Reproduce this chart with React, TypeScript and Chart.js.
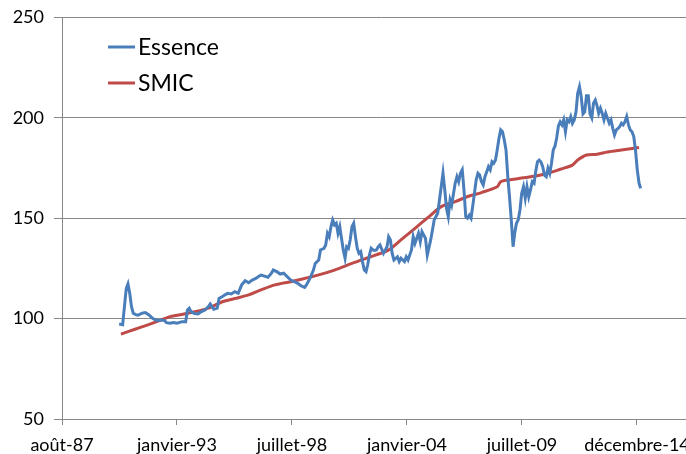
import React, { useEffect, useRef } from "react";
import { Chart, registerables } from "chart.js";

Chart.register(...registerables);

// ---- Data -----------------------------------------------------------------
const essenceDates: string[] = [
  "1990-05","1990-07","1990-08","1990-09","1990-10","1990-11","1990-12","1991-01","1991-03","1991-04",
  "1991-06","1991-08","1991-10","1991-12","1992-02","1992-03","1992-05","1992-07","1992-08","1992-10",
  "1992-12","1993-02","1993-05","1993-07","1993-08","1993-09","1993-10","1993-12","1994-02","1994-04",
  "1994-06","1994-08","1994-09","1994-10","1994-11","1995-01","1995-02","1995-04","1995-06","1995-07",
  "1995-09","1995-11","1996-01","1996-03","1996-05","1996-07","1996-09","1996-11","1997-01","1997-02",
  "1997-04","1997-06","1997-08","1997-09","1997-11","1998-01","1998-03","1998-05","1998-07","1998-09",
  "1998-11","1999-01","1999-03","1999-04","1999-06","1999-08","1999-09","1999-11","1999-12","2000-02",
  "2000-03","2000-04","2000-05","2000-06","2000-07","2000-08","2000-09","2000-10","2000-11","2000-12",
  "2001-01","2001-02","2001-03","2001-04","2001-05","2001-06","2001-07","2001-08","2001-09","2001-10",
  "2001-11","2001-12","2002-01","2002-02","2002-03","2002-04","2002-05","2002-06","2002-07","2002-08",
  "2002-09","2002-10","2002-12","2003-02","2003-03","2003-04","2003-05","2003-06","2003-08","2003-09",
  "2003-10","2003-12","2004-01","2004-02","2004-04","2004-05","2004-06","2004-08","2004-09","2004-10",
  "2004-12","2005-01","2005-03","2005-04","2005-05","2005-07","2005-08","2005-10","2005-11","2005-12",
  "2006-01","2006-02","2006-03","2006-05","2006-06","2006-07","2006-08","2006-09","2006-10","2006-11",
  "2006-12","2007-01","2007-02","2007-03","2007-04","2007-05","2007-06","2007-07","2007-08","2007-09",
  "2007-10","2007-11","2007-12","2008-01","2008-02","2008-03","2008-04","2008-05","2008-06","2008-07",
  "2008-08","2008-09","2008-10","2008-11","2008-12","2009-01","2009-02","2009-03","2009-04","2009-05",
  "2009-06","2009-07","2009-08","2009-09","2009-10","2009-11","2009-12","2010-01","2010-02","2010-03",
  "2010-04","2010-05","2010-06","2010-07","2010-08","2010-09","2010-10","2010-11","2010-12","2011-01",
  "2011-02","2011-03","2011-04","2011-05","2011-06","2011-07","2011-08","2011-09","2011-10","2011-11",
  "2011-12","2012-01","2012-02","2012-03","2012-04","2012-05","2012-06","2012-07","2012-08","2012-09",
  "2012-10","2012-11","2012-12","2013-01","2013-02","2013-03","2013-04","2013-05","2013-06","2013-07",
  "2013-08","2013-09","2013-10","2013-11","2013-12","2014-01","2014-02","2014-03","2014-04","2014-05",
  "2014-06","2014-07","2014-08","2014-09","2014-10","2014-11","2014-12","2015-01","2015-02","2015-03",
];

const essenceValues: number[] = [
  97.3, 97, 106, 115, 117.3, 112.6, 106, 102.7, 101.8, 101.8,
  102.7, 103, 101.8, 100.2, 99.3, 99, 99.3, 99, 98, 97.7,
  98, 97.7, 98.5, 98.5, 104.3, 105.2, 103.5, 102.5, 102.3, 103.5,
  104.3, 106, 107.3, 106, 104.7, 105.2, 110, 111, 112.1, 112.6,
  112.3, 113.4, 112.6, 116.8, 118.9, 117.9, 119.2, 120, 121.2, 121.7,
  121.2, 120.6, 122.6, 124.2, 123.4, 122.2, 122.6, 120.9, 119.2, 118.4,
  117.6, 116.3, 115.6, 116.8, 120, 124.2, 127.5, 129.2, 134.2, 135,
  136.7, 142.5, 140.8, 145.8, 149.1, 146.7, 147.5, 142.5, 145.8, 140,
  134.2, 130.1, 135.8, 135, 139.2, 145.8, 147.5, 140.8, 135, 132.5,
  133.3, 128.4, 124.2, 123.4, 126.7, 131.7, 135, 134.2, 134, 134.2,
  135.8, 136.7, 132.5, 135.8, 140.8, 139.2, 132.5, 129.2, 130.8, 128.4,
  130.1, 128.4, 130.8, 129.2, 134.2, 140.8, 137.5, 142.5, 138.3, 143.3,
  140, 131.7, 139.2, 144.2, 149.1, 152.5, 159.1, 172.4, 164.1, 155,
  150.8, 159.1, 156.6, 167.4, 170.7, 168.2, 172.4, 174.1, 164.1, 150.8,
  150, 151.5, 150, 155.8, 162.4, 169, 172.4, 171.5, 168.2, 166.6,
  170.7, 173.2, 175.7, 174.1, 178.2, 177.4, 179, 184, 189.8, 194,
  193.1, 189, 184, 170.7, 160.7, 149.1, 135.8, 142.5, 147.5, 149.1,
  154.1, 162.4, 165.7, 160, 165.7, 160.7, 164.1, 168.2, 167.4, 173.2,
  178.2, 179, 178, 175.7, 171.5, 170.7, 174.9, 172.4, 177.4, 184,
  186, 190, 196, 198, 196.5, 199, 193.1, 199, 198.1, 200.6,
  197.3, 199, 203, 212.2, 215.5, 210.6, 202, 203, 211, 211,
  202, 200, 207.3, 208.9, 206, 202.3, 204.8, 202.3, 199, 202.3,
  199.8, 197.3, 199, 194.8, 191.5, 194, 194.8, 195.6, 197.3, 196.5,
  198.1, 200.6, 196.5, 194, 193.1, 190.7, 184, 174.1, 167.4, 164.9,
];

const smicDates: string[] = [
  "1990-06","1991-02","1991-09","1992-04","1992-10","1993-06","1994-03","1994-08","1995-04","1995-11",
  "1996-07","1997-02","1997-10","1998-07","1999-01","1999-11","2000-08","2001-06","2002-02","2002-07",
  "2003-03","2003-10","2004-06","2005-02","2005-09","2006-05","2007-01","2007-08","2008-05","2008-07",
  "2008-11","2009-07","2010-03","2010-10","2011-05","2011-12","2012-03","2012-08","2013-02","2013-08",
  "2014-04","2015-02",
];

const smicValues: number[] = [
  92.3, 94.7, 96.8, 99, 101, 102.3, 104, 105.2, 108.4, 110,
  111.8, 114.3, 116.8, 118.4, 119.6, 121.8, 124.2, 127.5, 130, 131.5,
  134.2, 139.2, 145, 150.8, 155.8, 158.3, 161.1, 162.8, 165.7, 168.2,
  169, 170, 171, 172.4, 174.4, 176.5, 179, 181.5, 181.9, 183,
  184, 185.2,
];

const seriesLabels: string[] = ["Essence", "SMIC"];
const xTickLabels: string[] = ["août-87", "janvier-93", "juillet-98", "janvier-04", "juillet-09", "décembre-14"];
const yTickValues: number[] = [50, 100, 150, 200, 250];

// ---- Helpers ----------------------------------------------------------------
// Excel-style serial day number (days since 1899-12-30)
const toSerial = (s: string): number => {
  const [y, m] = s.split("-").map(Number);
  return Date.UTC(y, m - 1, 1) / 86400000 + 25569;
};

const X_MIN = 32000;
const X_STEP = 2000;
const X_MAX = 43096;

const FONT = "Lato, 'Open Sans', sans-serif";
const GRID = "#878787";

const legendPlugin = {
  id: "insideLegend",
  afterDatasetsDraw(chart: any) {
    const ctx = chart.ctx as CanvasRenderingContext2D;
    chart.data.datasets.forEach((ds: any, i: number) => {
      const y = 47 + i * 36;
      ctx.save();
      ctx.strokeStyle = ds.borderColor;
      ctx.lineWidth = 3;
      ctx.beginPath();
      ctx.moveTo(108, y);
      ctx.lineTo(135, y);
      ctx.stroke();
      ctx.fillStyle = "#000";
      ctx.font = `23px ${FONT}`;
      ctx.textBaseline = "middle";
      ctx.textAlign = "left";
      ctx.fillText(ds.label, 138, y + 1);
      ctx.restore();
    });
  },
};

export default function App() {
  const canvasRef = useRef<HTMLCanvasElement | null>(null);

  useEffect(() => {
    if (!canvasRef.current) return;
    const chart = new Chart(canvasRef.current, {
      type: "line",
      data: {
        datasets: [
          {
            label: seriesLabels[0],
            data: essenceDates.map((d, i) => ({ x: toSerial(d), y: essenceValues[i] })),
            borderColor: "#4A7EBB",
            borderWidth: 3,
            pointRadius: 0,
            tension: 0,
            fill: false,
          },
          {
            label: seriesLabels[1],
            data: smicDates.map((d, i) => ({ x: toSerial(d), y: smicValues[i] })),
            borderColor: "#BE4B48",
            borderWidth: 3,
            pointRadius: 0,
            tension: 0.3,
            fill: false,
          },
        ],
      },
      options: {
        responsive: false,
        animation: false,
        events: [],
        layout: { padding: { top: 17.5, right: 20, bottom: 0, left: 0 } },
        plugins: {
          legend: { display: false },
          tooltip: { enabled: false },
        },
        scales: {
          x: {
            type: "linear",
            min: X_MIN,
            max: X_MAX,
            afterFit: (scale: any) => {
              scale.height = 35;
              scale.paddingLeft = 0;
              scale.paddingRight = 0;
            },
            afterBuildTicks: (scale: any) => {
              scale.ticks = xTickLabels.map((_, i) => ({ value: X_MIN + i * X_STEP }));
            },
            ticks: {
              autoSkip: false,
              maxRotation: 0,
              minRotation: 0,
              padding: 9,
              color: "#000",
              font: { family: FONT, size: 18 },
              callback: (_v: any, i: number) => xTickLabels[i] ?? "",
            },
            grid: {
              display: true,
              drawOnChartArea: false,
              drawTicks: true,
              tickLength: 6,
              color: GRID,
            },
            border: { display: true, color: GRID, width: 1 },
          },
          y: {
            type: "linear",
            min: yTickValues[0],
            max: yTickValues[yTickValues.length - 1],
            afterFit: (scale: any) => {
              scale.width = 62;
              scale.paddingTop = 0;
              scale.paddingBottom = 0;
            },
            afterBuildTicks: (scale: any) => {
              scale.ticks = yTickValues.map((v) => ({ value: v }));
            },
            ticks: {
              padding: 10,
              color: "#000",
              font: { family: FONT, size: 18 },
            },
            grid: {
              display: true,
              drawOnChartArea: true,
              drawTicks: true,
              tickLength: 8,
              color: GRID,
            },
            border: { display: true, color: GRID, width: 1 },
          },
        },
      },
      plugins: [legendPlugin],
    } as any);
    return () => chart.destroy();
  }, []);

  return (
    <div
      style={{
        position: "fixed",
        left: 0,
        top: 0,
        width: 686,
        height: 454,
        overflow: "hidden",
        background: "#fff",
      }}
    >
      <canvas ref={canvasRef} width={720} height={454} style={{ width: 720, height: 454, display: "block" }} />
    </div>
  );
}
